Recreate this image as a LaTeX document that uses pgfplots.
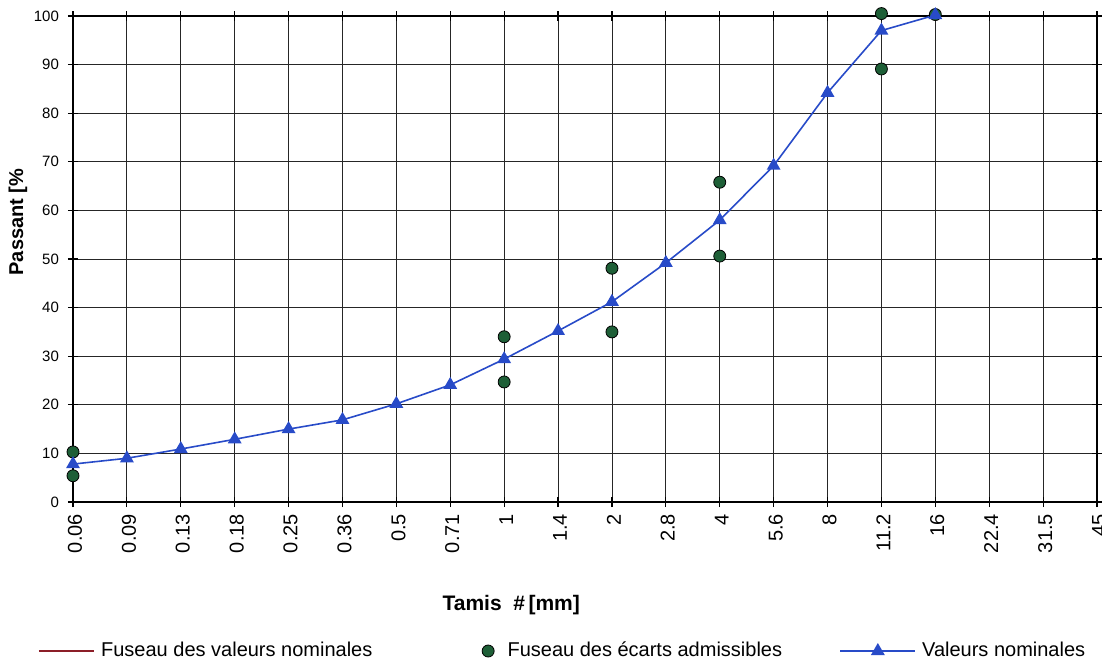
\documentclass[border=0pt]{standalone}
\usepackage{fontspec}
\setmainfont{Liberation Sans}
\usepackage{pgfplots}
\pgfplotsset{compat=1.18}

\definecolor{nomblue}{RGB}{40,75,200}
\definecolor{admgreen}{RGB}{30,95,55}
\definecolor{fusred}{RGB}{140,30,40}

\pgfplotsset{
    redleg/.style={legend image code/.code={\draw[##1] (0pt,0pt) -- (27.5pt,0pt);}},
    dotleg/.style={legend image code/.code={\draw[##1] plot coordinates {(6pt,0pt)}; \path (12.5pt,0pt);}},
    triangleg/.style={legend image code/.code={\draw[mark repeat=2, mark phase=2, ##1] plot coordinates {(0pt,0pt) (18.75pt,0pt) (37.5pt,0pt)};}},
}

\begin{document}
\begin{tikzpicture}
\useasboundingbox (0,0) rectangle (551pt,330pt);
\begin{axis}[
    at={(36.5pt,79pt)}, anchor=south west,
    scale only axis,
    width=512pt, height=243pt,
    xmin=0, xmax=19, ymin=0, ymax=100,
    xtick={0,...,19},
    xticklabels={0.06,0.09,0.13,0.18,0.25,0.36,0.5,0.71,1,1.4,2,2.8,4,5.6,8,11.2,16,22.4,31.5,45},
    ytick={0,10,...,100},
    /pgf/number format/assume math mode=true,
    xticklabel style={rotate=90, anchor=east, font=\fontsize{10}{12}\selectfont, yshift=-1pt},
    yticklabel style={font=\fontsize{7.5}{9}\selectfont, xshift=-1pt},
    tick align=center, major tick length=5pt,
    tick style={black, line width=0.6pt},
    grid=major,
    major grid style={black!85, line width=0.45pt},
    axis line style={black, line width=0.7pt},
    clip=false,
    xlabel={\textbf{Tamis\ \ \#\,[mm]}},
    ylabel={\textbf{Passant [\%}},
    xlabel style={at={(axis description cs:0.428,-0.212)}, anchor=center, font=\fontsize{10.5}{12}\selectfont},
    ylabel style={at={(axis description cs:-0.0537,0.576)}, anchor=center, font=\fontsize{10}{12}\selectfont},
    legend columns=3,
    legend style={at={(axis description cs:-0.0352,-0.3066)}, anchor=west,
        draw=none, fill=none, inner sep=0pt,
        font=\fontsize{10}{12}\selectfont,
        /tikz/every odd column/.append style={column sep=1pt}},
    legend cell align=left,
]
\addlegendimage{fusred, line width=1.4pt, redleg}
\addlegendentry{\makebox[188.5pt][l]{Fuseau des valeurs nominales}}

\addplot[only marks, mark=*, mark size=3pt,
    mark options={fill=admgreen, draw=black, line width=0.4pt}, dotleg]
coordinates {
    (0,10.3) (0,5.4)
    (8,34.0) (8,24.7)
    (10,48.1) (10,35.0)
    (12,65.8) (12,50.6)
    (15,100.5) (15,89.1)
    (16,100.3)
};
\addlegendentry{\makebox[164pt][l]{Fuseau des écarts admissibles}}

\addplot[nomblue, line width=0.8pt, mark=triangle*, mark size=3.2pt,
    mark options={fill=nomblue, draw=nomblue}, triangleg]
coordinates {
    (0,7.8) (1,9.0) (2,10.9) (3,12.9) (4,15.0) (5,16.9) (6,20.2)
    (7,24.1) (8,29.4) (9,35.2) (10,41.2) (11,49.2) (12,58.0)
    (13,69.2) (14,84.2) (15,97.0) (16,100.2)
};
\addlegendentry{Valeurs nominales}
\end{axis}
\end{tikzpicture}
\end{document}
